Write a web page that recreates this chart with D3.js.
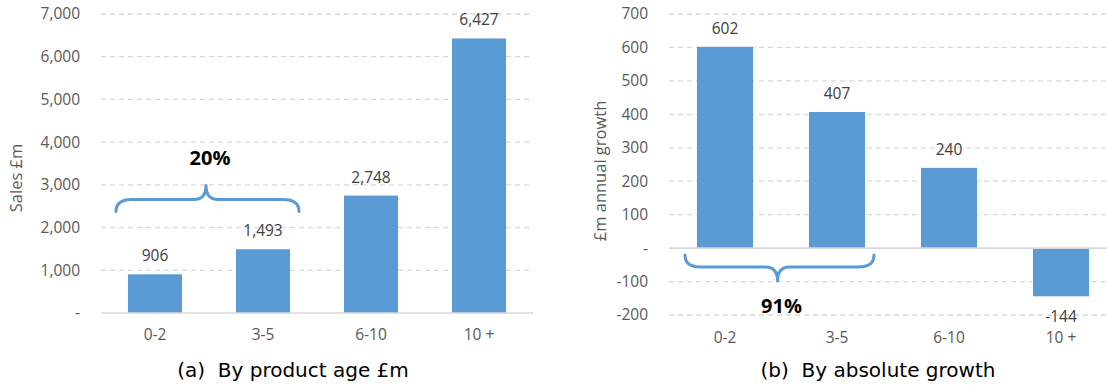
<!DOCTYPE html>
<html>
<head>
<meta charset="utf-8">
<script src="https://cdn.jsdelivr.net/npm/d3@7"></script>
<style>
  html, body { margin: 0; padding: 0; background: #fff; }
  svg { display: block; }
  .tick text { font-family: "Open Sans", "Noto Sans", sans-serif; }
</style>
</head>
<body>
<svg id="chart" width="1107" height="385"></svg>
<script>
// Product age bands shared by both panels
const categories = ["0-2", "3-5", "6-10", "10 +"];

// Panel (a): sales by product age, £m
const salesValues = [906, 1493, 2748, 6427];
const salesTicks = [0, 1000, 2000, 3000, 4000, 5000, 6000, 7000];

// Panel (b): absolute annual growth, £m
const growthValues = [602, 407, 240, -144];
const growthTicks = [-200, -100, 0, 100, 200, 300, 400, 500, 600, 700];

// Brace annotations
const salesBrace = { from: "0-2", to: "3-5", label: "20%" };
const growthBrace = { from: "0-2", to: "3-5", label: "91%" };

const BAR = "#5B9BD5";
const GRID = "#D9D9D9";
const TICK_TEXT = "#595959";
const LABEL_TEXT = "#404040";
const FONT = '"Open Sans", "Noto Sans", sans-serif';

const svg = d3.select("#chart");
// thousands separator, plain hyphen for negatives
const num = d => d3.format(",")(d).replace("\u2212", "-");
const fmt = d => d === 0 ? "-" : num(d);

function panel(opts) {
  const g = svg.append("g");
  const x = d3.scaleBand().domain(categories).range(opts.xRange)
    .paddingInner(0.5).paddingOuter(0.25);
  const y = d3.scaleLinear().domain(opts.yDomain).range(opts.yRange);

  // dashed gridlines
  g.append("g").selectAll("line").data(opts.ticks.filter(t => t !== 0)).join("line")
    .attr("x1", opts.gridX[0]).attr("x2", opts.gridX[1])
    .attr("y1", d => y(d)).attr("y2", d => y(d))
    .attr("stroke", GRID).attr("stroke-width", 1.3).attr("stroke-dasharray", "5,4");

  // y axis labels
  const yAxis = d3.axisLeft(y).tickValues(opts.ticks).tickFormat(fmt).tickSize(0).tickPadding(0);
  const ya = g.append("g").attr("transform", `translate(${opts.yLabelX},0)`).call(yAxis);
  ya.select(".domain").remove();
  ya.selectAll("text").attr("fill", TICK_TEXT).attr("font-size", 15.5);

  // bars
  g.append("g").selectAll("rect").data(opts.values).join("rect")
    .attr("x", (d, i) => x(categories[i]))
    .attr("width", x.bandwidth())
    .attr("y", d => y(Math.max(0, d)))
    .attr("height", d => Math.abs(y(d) - y(0)))
    .attr("fill", BAR);

  // zero baseline
  g.append("line")
    .attr("x1", opts.gridX[0]).attr("x2", opts.gridX[1])
    .attr("y1", y(0)).attr("y2", y(0))
    .attr("stroke", GRID).attr("stroke-width", 1.6);

  // value labels
  g.append("g").selectAll("text").data(opts.values).join("text")
    .attr("x", (d, i) => x(categories[i]) + x.bandwidth() / 2)
    .attr("y", d => d >= 0 ? y(d) - 13 : y(d) + 26)
    .attr("text-anchor", "middle")
    .attr("font-family", FONT).attr("font-size", 15.5).attr("fill", LABEL_TEXT)
    .text(d => num(d));

  // category labels
  const xAxis = d3.axisBottom(x).tickSize(0).tickPadding(0);
  const xa = g.append("g").attr("transform", `translate(0,${opts.catY})`).call(xAxis);
  xa.select(".domain").remove();
  xa.selectAll("text").attr("fill", TICK_TEXT).attr("font-size", 15.5).attr("dy", "0.32em");

  // rotated y-axis title
  g.append("text")
    .attr("transform", `translate(${opts.titleX},${opts.titleY}) rotate(-90)`)
    .attr("text-anchor", "middle").attr("dy", "0.35em")
    .attr("font-family", FONT).attr("font-size", 16.5).attr("fill", TICK_TEXT)
    .text(opts.yTitle);

  // caption
  g.append("text")
    .attr("x", opts.captionX).attr("y", 370)
    .attr("text-anchor", "middle").attr("dy", "0.35em")
    .attr("font-family", '"DejaVu Sans", Verdana, sans-serif')
    .attr("font-size", 20).attr("fill", "#000")
    .attr("xml:space", "preserve")
    .text(opts.caption);

  // curly brace spanning two categories
  const b = opts.brace;
  const x0 = x(b.from) - 12, x1 = x(b.to) + x.bandwidth() + 9;
  const xm = (x0 + x1) / 2 + opts.braceShift;
  const dir = opts.braceDir; // -1: tip points up, 1: tip points down
  const yEnd = opts.braceY, yFlat = yEnd + dir * 12, yTip = yEnd + dir * 26;
  const r = 12;
  const path = d3.path();
  path.moveTo(x0, yEnd);
  path.quadraticCurveTo(x0, yFlat, x0 + r * 1.3, yFlat);
  path.lineTo(xm - r, yFlat);
  path.quadraticCurveTo(xm, yFlat, xm, yTip);
  path.quadraticCurveTo(xm, yFlat, xm + r, yFlat);
  path.lineTo(x1 - r * 1.3, yFlat);
  path.quadraticCurveTo(x1, yFlat, x1, yEnd);
  g.append("path").attr("d", path.toString())
    .attr("fill", "none").attr("stroke", BAR).attr("stroke-width", 3)
    .attr("stroke-linecap", "round").attr("stroke-linejoin", "round");

  g.append("text")
    .attr("x", xm + opts.braceLabelDx).attr("y", opts.braceLabelY)
    .attr("text-anchor", "middle").attr("dy", "0.35em")
    .attr("font-family", '"Open Sans", "Noto Sans", sans-serif')
    .attr("font-weight", "bold").attr("font-size", 20).attr("fill", "#000")
    .text(b.label);
}

panel({
  values: salesValues, ticks: salesTicks,
  xRange: [101, 533], yDomain: [0, 7000], yRange: [313, 14],
  gridX: [101, 533], yLabelX: 80, catY: 335,
  yTitle: "Sales £m", titleX: 16, titleY: 178,
  caption: "(a)  By product age £m", captionX: 293,
  brace: salesBrace, braceY: 211.5, braceDir: -1, braceShift: -1.5,
  braceLabelY: 158, braceLabelDx: 4
});

panel({
  values: growthValues, ticks: growthTicks,
  xRange: [669, 1117], yDomain: [-200, 700], yRange: [315, 14],
  gridX: [669, 1107], yLabelX: 648, catY: 338,
  yTitle: "£m annual growth", titleX: 600, titleY: 171,
  caption: "(b)  By absolute growth", captionX: 878,
  brace: growthBrace, braceY: 255, braceDir: 1, braceShift: -2,
  braceLabelY: 306, braceLabelDx: 4
});
</script>
</body>
</html>
